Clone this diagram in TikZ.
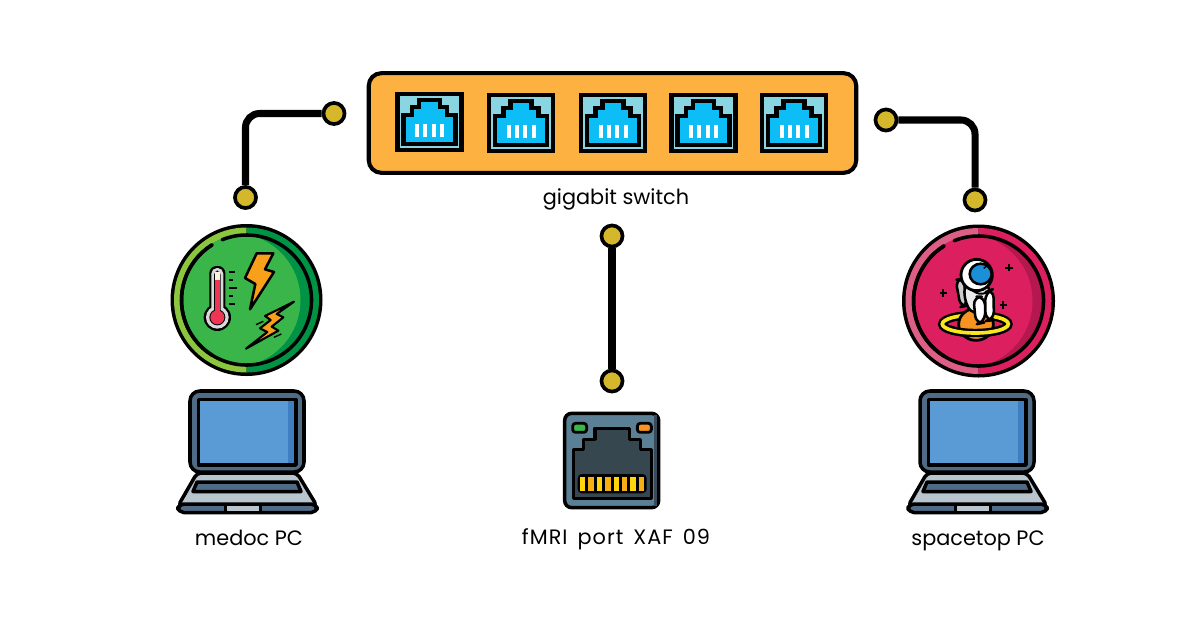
\documentclass[tikz,border=0pt]{standalone}
\usepackage{fontspec}
\setmainfont{Poppins}
\usetikzlibrary{positioning}
\definecolor{dotfill}{HTML}{D4B72B}
\definecolor{switchfill}{HTML}{FDB140}
\definecolor{portfill}{HTML}{8AD5E2}
\definecolor{plugfill}{HTML}{0CBEF5}
\definecolor{slate}{HTML}{4F6B85}
\definecolor{slatedark}{HTML}{37474F}
\definecolor{jackfill}{HTML}{5B7F95}
\definecolor{screen}{HTML}{5B9BD5}
\definecolor{screendark}{HTML}{3F7FC1}
\definecolor{basefill}{HTML}{B8C4CE}
\definecolor{limering}{HTML}{8CC63F}
\definecolor{darkgreen}{HTML}{009245}
\definecolor{midgreen}{HTML}{3AB54A}
\definecolor{pinkring}{HTML}{DD5F85}
\definecolor{rosefill}{HTML}{DC1F5E}
\definecolor{rosedark}{HTML}{B5184F}
\definecolor{hotred}{HTML}{EF3554}
\definecolor{boltfill}{HTML}{F9A01B}
\definecolor{planetfill}{HTML}{F7931E}
\definecolor{ringfill}{HTML}{F8E71C}
\definecolor{visor}{HTML}{1C8FD8}
\definecolor{pinfill}{HTML}{FFD60A}
\definecolor{pinfill2}{HTML}{F5B014}
\tikzstyle{dot} = [circle, draw=black, line width=2.6pt, fill=dotfill, minimum size=15pt, inner sep=0pt]
\tikzstyle{wire} = [draw=black, line width=5pt, rounded corners=10pt]
\tikzstyle{caption} = [font=\fontsize{14.8}{16}\selectfont, text=black, inner sep=0pt, anchor=base]
\tikzstyle{ink} = [draw=black, line width=2.5pt, line join=round]
\tikzset{
  ethport/.pic={
    \draw [ink, line width=2.9pt, fill=portfill, line join=miter] (-32,-28) rectangle (32,28);
    \draw [ink, line width=2.9pt, fill=plugfill, line join=miter] (-26,22) -- (-26,-7) -- (-17.5,-7) -- (-17.5,-15) -- (-10.5,-15) -- (-10.5,-22)
      -- (10.5,-22) -- (10.5,-15) -- (17.5,-15) -- (17.5,-7) -- (26,-7) -- (26,22) -- cycle;
    \foreach \x in {-12.5,-4.2,4.2,12.5}
      \fill [white] (\x-2,2) rectangle (\x+2,15);
  },
  laptop/.pic={
    % lid
    \draw [ink, fill=slate, rounded corners=7pt] (-57,-88) rectangle (57,-7);
    \fill [screen] (-47,-78) rectangle (47,-15);
    \fill [screendark] (41,-78) rectangle (47,-15);
    \draw [ink] (-48.5,-79.5) rectangle (49,-14);
    % base
    \draw [ink, fill=basefill, rounded corners=3pt] (-50,-6) -- (50,-6) -- (70,27) -- (-69,27) -- cycle;
    \draw [ink, fill=slate] (-50,3) -- (50,3) -- (54,12.5) -- (-54,12.5) -- cycle;
    \draw [ink, fill=slate, rounded corners=4pt] (-69,25) rectangle (70,33.5);
    \fill [basefill] (-20,26.5) rectangle (12,32);
    \draw [black, line width=2pt] (-21.5,24) -- (-21.5,34) (13.5,24) -- (13.5,34);
  }
}
\begin{document}
\begin{tikzpicture}[x=0.025cm, y=-0.025cm]
  \useasboundingbox (0,0) rectangle (1200,631);

  % switch
  \node (switch) [draw=black, line width=2.9pt, fill=switchfill, rounded corners=9pt, minimum width=489*0.709pt, minimum height=100*0.709pt, inner sep=0pt] at (612.5,123) {};
  \pic at (429.5,122) {ethport};
  \pic at (521,123) {ethport};
  \pic at (613,123) {ethport};
  \pic at (703.5,123) {ethport};
  \pic at (794,123) {ethport};
  \node (switch_label) [caption] at (616,204) {gigabit switch};

  % connectors
  \node (d_sw_l) [dot] at (334,113.5) {};
  \node (d_medoc) [dot] at (245.5,197.5) {};
  \node (d_sw_r) [dot] at (886,120) {};
  \node (d_space) [dot] at (975,200) {};
  \node (d_sw_m) [dot] at (612,236) {};
  \node (d_jack) [dot] at (612,381) {};
  \draw [wire] (d_medoc) |- (d_sw_l);
  \draw [wire] (d_sw_r) -| (d_space);
  \draw [wire] (d_sw_m) -- (d_jack);

  % medoc badge
  \begin{scope}[shift={(246.5,300)}, yscale=-1]
    \fill [black] (0,0) circle (76);
    \fill [limering] (0,72.5) arc (90:270:72.5) -- cycle;
    \fill [darkgreen] (0,72.5) arc (90:-90:72.5) -- cycle;
    \begin{scope}
      \clip (0,0) circle (66);
      \fill [darkgreen] (0,0) circle (66);
      \fill [midgreen] (-13,0) circle (67);
    \end{scope}
    \draw [black, line width=2.5pt, line cap=round] (112:65) arc (112:-238:65);
    \draw [black, line width=2.5pt, line cap=round] (122:65) arc (122:238:65);
  \end{scope}
  \begin{scope}[shift={(150,210)}, scale=1/3]
    % thermometer
    \fill [black, rounded corners=5pt] (178,168) rectangle (226,310);
    \fill [black] (202,322) circle (41);
    \fill [white!85!black, rounded corners=4pt] (184,174) rectangle (220,310);
    \fill [white!85!black] (202,322) circle (34);
    \fill [black, rounded corners=3pt] (192,182) rectangle (212,310);
    \fill [black] (202,322) circle (24);
    \fill [white!90!orange] (195,185) rectangle (209,210);
    \fill [hotred] (195,210) rectangle (209,310);
    \fill [hotred] (202,322) circle (21);
    \foreach \y/\w in {186/16, 210/12, 234/22, 258/12, 282/16}
      \draw [black, line width=1.4pt] (238,\y) -- ++(\w,0);
    % bolts
    \draw [black, line width=1.8pt, line join=round, fill=boltfill] (320,130) -- (370,130) -- (345,178) -- (372,186) -- (300,298) -- (316,222) -- (285,204) -- cycle;
    \draw [black, line width=1.5pt, line join=round, fill=boltfill] (432,275) -- (345,318) -- (362,330) -- (330,355) -- (352,366) -- (288,416) -- (385,362) -- (365,350) -- (400,322) -- (380,312) -- cycle;
    \draw [black, line width=1pt] (318,344) -- (340,334) (372,382) -- (394,372);
  \end{scope}

  % spacetop badge
  \begin{scope}[shift={(978.5,301)}, yscale=-1]
    \fill [black] (0,0) circle (76.5);
    \fill [pinkring] (0,73) arc (90:270:73) -- cycle;
    \fill [rosefill] (0,73) arc (90:-90:73) -- cycle;
    \begin{scope}
      \clip (0,0) circle (66);
      \fill [rosedark] (0,0) circle (66);
      \fill [rosefill] (-13,0) circle (67);
    \end{scope}
    \draw [black, line width=2.5pt, line cap=round] (112:65) arc (112:-238:65);
    \draw [black, line width=2.5pt, line cap=round] (122:65) arc (122:238:65);
  \end{scope}
  \begin{scope}[shift={(890,215)}, scale=1/3]
    % stars
    \foreach \x/\y in {357/158, 160/234, 340/270}
      \draw [black, line width=1.6pt] (\x-11,\y) -- (\x+11,\y) (\x,\y-11) -- (\x,\y+11);
    % planet and ring
    \draw [black, line width=6pt] (256,327) ellipse (99 and 27);
    \draw [ringfill, line width=2.6pt] (256,327) ellipse (99 and 27);
    \draw [black, line width=2pt, fill=planetfill] (258,328) ellipse (52 and 48);
    \begin{scope}
      \clip (140,330) rectangle (380,370);
      \draw [black, line width=6pt] (256,327) ellipse (99 and 27);
      \draw [ringfill, line width=2.6pt] (256,327) ellipse (99 and 27);
    \end{scope}
    % astronaut
    \draw [ink, line width=1.8pt, fill=white!80!black, rounded corners=5pt] (197,195) -- (220,190) -- (232,272) -- (212,276) -- cycle;
    \draw [ink, line width=1.8pt, fill=white!92!black, rounded corners=6pt] (222,205) -- (300,205) -- (290,290) -- (250,300) -- (225,265) -- cycle;
    \draw [ink, line width=1.8pt, fill=white, rounded corners=6pt] (250,245) -- (285,245) -- (285,322) -- (258,328) -- cycle;
    \draw [ink, line width=1.8pt, fill=white, rounded corners=6pt] (285,232) -- (310,222) -- (312,315) -- (287,318) -- cycle;
    \draw [black, line width=1.4pt] (235,210) .. controls (250,240) and (285,245) .. (302,222);
    \draw [ink, line width=2pt, fill=white] (260,180) circle (47);
    \draw [black, line width=1.8pt, fill=visor] (272,177) ellipse (33 and 31);
    \draw [black, line width=1pt] (281,160) arc (70:0:15);
  \end{scope}

  % laptops
  \pic at (247,479) {laptop};
  \pic at (977,479) {laptop};
  \node (medoc_label) [caption] at (249,545) {medoc PC};
  \node (space_label) [caption] at (978,545) {spacetop PC};

  % wall jack
  \begin{scope}[shift={(550,400)}, scale=1/3]
    \draw [ink, fill=jackfill, rounded corners=5pt] (44,40) rectangle (326,323);
    \fill [slate!70!black] (312,45) rectangle (322,318);
    \draw [ink, fill=slatedark] (70,148) -- (100,148) -- (100,118) -- (135,118) -- (135,85) -- (238,85) -- (238,118) -- (272,118) -- (272,148) -- (305,148) -- (305,295) -- (70,295) -- cycle;
    \fill [black, rounded corners=3pt] (83,222) rectangle (290,280);
    \foreach \x in {0,2,4,6}
      \fill [pinfill] (90+\x*25.2,230) rectangle +(16,42);
    \foreach \x in {1,3,5,7}
      \fill [pinfill2] (90+\x*25.2,230) rectangle +(16,42);
    \draw [ink, line width=2pt, fill=midgreen, rounded corners=2pt] (68,70) rectangle (110,97);
    \draw [ink, line width=2pt, fill=planetfill, rounded corners=2pt] (262,70) rectangle (304,97);
  \end{scope}
  \node (jack_label) [caption] at (616,544.5) {\addfontfeature{LetterSpace=5}fMRI\hspace{2.4pt} port\hspace{2.4pt} XAF\hspace{2.4pt} 09};
\end{tikzpicture}
\end{document}
